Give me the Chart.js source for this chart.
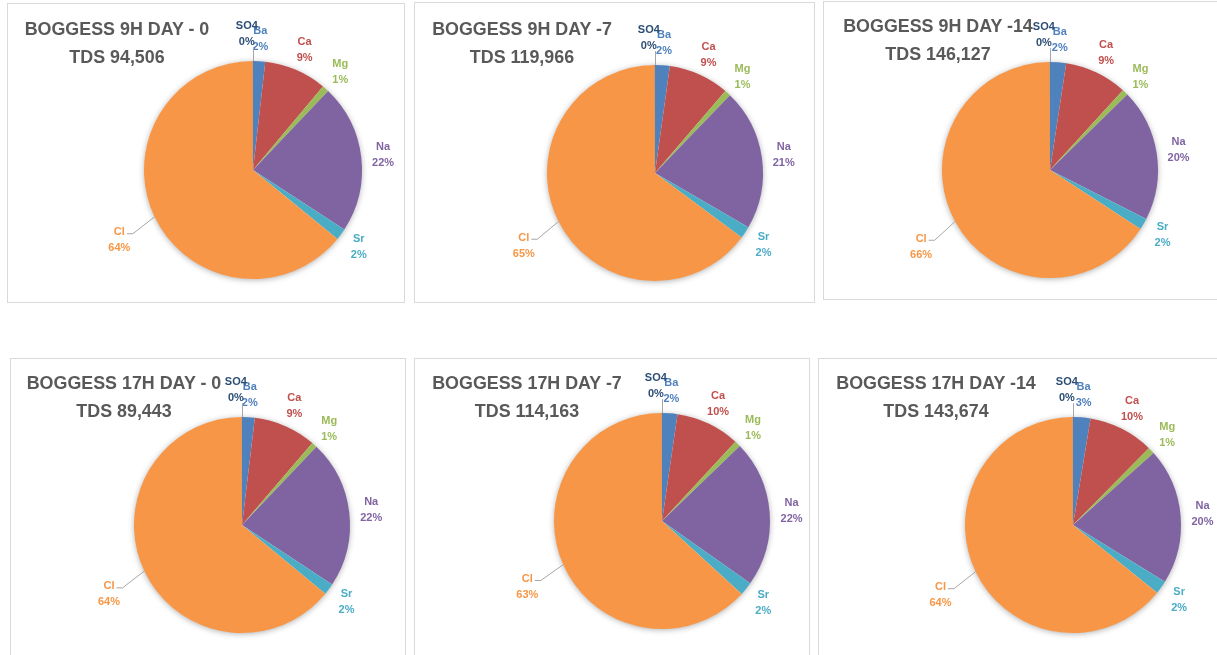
<!DOCTYPE html>
<html>
<head>
<meta charset="utf-8">
<title>Boggess ion composition</title>
<script src="https://cdn.jsdelivr.net/npm/chart.js@4.4.0/dist/chart.umd.min.js"></script>
<style>
  body {
    margin: 0;
    width: 1217px;
    height: 655px;
    overflow: hidden;
    position: relative;
    background: #ffffff;
  }
  .panel {
    position: absolute;
    box-sizing: border-box;
    border: 1px solid #d9d9d9;
    background: #ffffff;
  }
  .panel canvas {
    position: absolute;
    left: 0;
    top: 0;
  }
  .title {
    position: absolute;
    transform: translateX(-50%) scaleX(0.94);
    text-align: center;
    white-space: nowrap;
    color: #595959;
    font-family: "Liberation Sans", Arial, sans-serif;
    font-weight: bold;
    font-size: 19px;
    line-height: 28px;
  }
</style>
</head>
<body>
<script>
// Ion share of TDS, slices run clockwise from 12 o'clock
const categories = ["Ba", "Ca", "Mg", "Na", "Sr", "Cl", "SO4"]

const boggess9H_day0 = [1.8, 9.3, 1.0, 22.1, 1.7, 64.1, 0.02]
const boggess9H_day7 = [2.2, 9.1, 0.9, 21.2, 1.8, 64.8, 0.03]
const boggess9H_day14 = [2.4, 9.4, 0.9, 19.8, 1.7, 65.8, 0.02]
const boggess17H_day0 = [1.9, 9.4, 0.8, 22.2, 1.7, 64.0, 0.02]
const boggess17H_day7 = [2.3, 9.6, 0.9, 22.0, 2.0, 63.2, 0.02]
const boggess17H_day14 = [2.6, 9.8, 1.0, 20.4, 2.0, 64.2, 0.02]

const chartTitles = [
  "BOGGESS 9H DAY - 0",
  "BOGGESS 9H DAY -7",
  "BOGGESS 9H DAY -14",
  "BOGGESS 17H DAY - 0",
  "BOGGESS 17H DAY -7",
  "BOGGESS 17H DAY -14",
]
const tdsValues = [94506, 119966, 146127, 89443, 114163, 143674]

const seriesList = [
  boggess9H_day0, boggess9H_day7, boggess9H_day14,
  boggess17H_day0, boggess17H_day7, boggess17H_day14,
]

// Office 2010 palette (SO4 is the 7th series -> darker blue)
const sliceColors = ["#4F81BD", "#C0504D", "#9BBB59", "#8064A2", "#4BACC6", "#F79646", "#2C4D75"]

// Panel boxes and pie placement (page pixels)
const panels = [
  { box: [7, 3, 398, 300], pie: [253, 170, 109], title: [117, 15] },
  { box: [414, 2, 401, 301], pie: [655, 173, 108], title: [522, 15] },
  { box: [823, 1, 400, 299], pie: [1050, 170, 108], title: [938, 12] },
  { box: [10, 358, 396, 305], pie: [242, 525, 108], title: [124, 369] },
  { box: [414, 358, 396, 305], pie: [662, 521, 108], title: [527, 369] },
  { box: [818, 358, 405, 305], pie: [1073, 525, 108], title: [936, 369] },
]

// Label placement tweaks (distance past the rim, angle shift, leader style)
const labelTweaks = {
  SO4: { offset: 27, shift: -0.045, leader: "up" },
  Cl: { offset: 42, shift: -0.04, leader: "elbow" },
}

const pieLabels = {
  id: "pieLabels",
  beforeDatasetsDraw(chart) {
    // soft shadow behind the whole pie
    const first = chart.getDatasetMeta(0).data[0]
    const ctx = chart.ctx
    ctx.save()
    ctx.shadowColor = "rgba(0,0,0,0.35)"
    ctx.shadowBlur = 6
    ctx.shadowOffsetY = 1
    ctx.fillStyle = "#ffffff"
    ctx.beginPath()
    ctx.arc(first.x, first.y, first.outerRadius - 0.5, 0, Math.PI * 2)
    ctx.fill()
    ctx.restore()
  },
  afterDatasetsDraw(chart) {
    const ctx = chart.ctx
    const meta = chart.getDatasetMeta(0)
    const values = chart.data.datasets[0].data
    const total = values.reduce((a, b) => a + b, 0)

    ctx.save()
    ctx.font = "bold 11px 'Liberation Sans', Arial, sans-serif"
    ctx.textAlign = "center"
    ctx.textBaseline = "middle"

    meta.data.forEach((arc, i) => {
      const name = chart.data.labels[i]
      const tweak = labelTweaks[name] || { offset: 22, shift: 0 }
      const { x, y, startAngle, endAngle, outerRadius } = arc.getProps(
        ["x", "y", "startAngle", "endAngle", "outerRadius"], true)
      const mid = (startAngle + endAngle) / 2
      const a = mid + tweak.shift
      const d = outerRadius + tweak.offset
      const lx = x + Math.cos(a) * d
      const ly = y + Math.sin(a) * d
      const pct = Math.round(values[i] / total * 100) + "%"

      // leader lines
      const ex = x + Math.cos(mid) * outerRadius
      const ey = y + Math.sin(mid) * outerRadius
      ctx.strokeStyle = "#a6a6a6"
      ctx.lineWidth = 1
      if (tweak.leader === "up") {
        ctx.beginPath()
        ctx.moveTo(Math.round(ex) + 0.5, ey)
        ctx.lineTo(Math.round(ex) + 0.5, ly + 13)
        ctx.stroke()
      } else if (tweak.leader === "elbow") {
        const w = ctx.measureText(name).width
        const tx = lx + w / 2 + 2
        ctx.beginPath()
        ctx.moveTo(ex, ey)
        ctx.lineTo(tx + 6, ly - 6.5)
        ctx.lineTo(tx, ly - 6.5)
        ctx.stroke()
      }

      ctx.fillStyle = sliceColors[i]
      ctx.fillText(name, lx, ly - 8)
      ctx.fillText(pct, lx, ly + 8)
    })
    ctx.restore()
  },
}

panels.forEach((p, k) => {
  const [left, top, width, height] = p.box
  const [cx, cy, r] = p.pie

  const panel = document.createElement("div")
  panel.className = "panel"
  panel.style.left = left + "px"
  panel.style.top = top + "px"
  panel.style.width = width + "px"
  panel.style.height = height + "px"
  document.body.appendChild(panel)

  const cw = width - 2
  const ch = height - 2
  const canvas = document.createElement("canvas")
  canvas.width = cw
  canvas.height = ch
  canvas.style.width = cw + "px"
  canvas.style.height = ch + "px"
  panel.appendChild(canvas)

  const title = document.createElement("div")
  title.className = "title"
  title.style.left = (p.title[0] - left - 1) + "px"
  title.style.top = (p.title[1] - top - 1) + "px"
  title.innerHTML = chartTitles[k] + "<br>TDS " + tdsValues[k].toLocaleString("en-US")
  panel.appendChild(title)

  const px = cx - left - 1
  const py = cy - top - 1

  new Chart(canvas.getContext("2d"), {
    type: "pie",
    data: {
      labels: categories,
      datasets: [
        {
          data: seriesList[k],
          backgroundColor: sliceColors,
          borderWidth: 0,
          hoverOffset: 0,
        },
      ],
    },
    options: {
      responsive: false,
      animation: false,
      events: [],
      radius: r,
      layout: {
        padding: { left: px - r, top: py - r, right: cw - px - r, bottom: ch - py - r },
      },
      plugins: {
        legend: { display: false },
        tooltip: { enabled: false },
      },
    },
    plugins: [pieLabels],
  })
})
</script>
</body>
</html>
